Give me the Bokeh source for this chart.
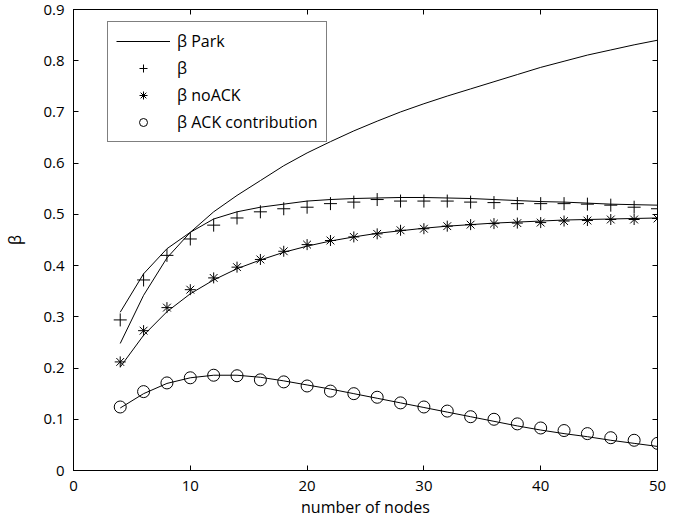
from bokeh.plotting import figure
from bokeh.models import Range1d, LinearAxis, Legend, LegendItem, FixedTicker
from bokeh.embed import file_html
from bokeh.resources import INLINE

nodes = [4, 6, 8, 10, 12, 14, 16, 18, 20, 22, 24, 26, 28, 30, 32, 34, 36, 38, 40, 42, 44, 46, 48, 50]

beta_park = [0.248, 0.342, 0.415, 0.465, 0.505, 0.537, 0.566, 0.595, 0.620, 0.642, 0.663, 0.682,
             0.700, 0.716, 0.731, 0.745, 0.759, 0.773, 0.787, 0.799, 0.811, 0.821, 0.831, 0.840]
beta_model = [0.309, 0.384, 0.433, 0.465, 0.491, 0.505, 0.514, 0.520, 0.526, 0.529, 0.531, 0.532,
              0.533, 0.533, 0.532, 0.531, 0.529, 0.527, 0.525, 0.524, 0.522, 0.520, 0.519, 0.518]
beta_sim = [0.294, 0.372, 0.420, 0.452, 0.479, 0.493, 0.505, 0.511, 0.514, 0.521, 0.524, 0.529,
            0.526, 0.526, 0.526, 0.524, 0.523, 0.521, 0.521, 0.521, 0.520, 0.518, 0.514, 0.511]
noack_model = [0.202, 0.264, 0.310, 0.345, 0.372, 0.394, 0.411, 0.426, 0.438, 0.448, 0.456, 0.463,
               0.468, 0.473, 0.477, 0.480, 0.483, 0.485, 0.487, 0.489, 0.490, 0.491, 0.492, 0.493]
noack_sim = [0.212, 0.273, 0.318, 0.353, 0.376, 0.397, 0.412, 0.428, 0.441, 0.449, 0.456, 0.462,
             0.469, 0.472, 0.477, 0.480, 0.482, 0.483, 0.484, 0.487, 0.488, 0.490, 0.490, 0.492]
ack_model = [0.122, 0.150, 0.170, 0.181, 0.186, 0.186, 0.182, 0.175, 0.167, 0.159, 0.150, 0.141,
             0.132, 0.123, 0.114, 0.105, 0.096, 0.087, 0.079, 0.072, 0.066, 0.059, 0.053, 0.047]
ack_sim = [0.124, 0.154, 0.171, 0.181, 0.186, 0.185, 0.177, 0.173, 0.165, 0.155, 0.150, 0.143,
           0.132, 0.124, 0.116, 0.105, 0.100, 0.091, 0.083, 0.078, 0.072, 0.064, 0.059, 0.053]

x_ticks = [0, 10, 20, 30, 40, 50]
y_ticks = [0, 0.1, 0.2, 0.3, 0.4, 0.5, 0.6, 0.7, 0.8, 0.9]

FONT = "Open Sans"
TICK_FS = "15px"
LABEL_FS = "16px"

p = figure(width=690, height=519, output_backend="svg", toolbar_location=None,
           x_range=Range1d(0, 50), y_range=Range1d(0, 0.9),
           min_border_left=73, min_border_right=33, min_border_top=9, min_border_bottom=49)
p.frame_width = 584
p.frame_height = 461
p.grid.visible = False
p.outline_line_color = "black"
p.outline_line_width = 1
p.background_fill_color = "white"
p.border_fill_color = "white"

for ax in [p.xaxis[0], p.yaxis[0]]:
    ax.major_tick_in = 5
    ax.major_tick_out = 0
    ax.minor_tick_in = 0
    ax.minor_tick_out = 0
    ax.axis_line_color = "black"
    ax.major_tick_line_color = "black"
    ax.major_label_text_font = FONT
    ax.major_label_text_font_size = TICK_FS
    ax.major_label_text_color = "black"
    ax.axis_label_text_font = FONT
    ax.axis_label_text_font_size = LABEL_FS
    ax.axis_label_text_font_style = "normal"
    ax.axis_label_text_color = "black"

p.xaxis[0].ticker = FixedTicker(ticks=x_ticks)
p.yaxis[0].ticker = FixedTicker(ticks=y_ticks)
p.xaxis[0].axis_label = "number of nodes"
p.yaxis[0].axis_label = "β"
p.xaxis[0].major_label_standoff = 10
p.xaxis[0].axis_label_standoff = 2
p.yaxis[0].major_label_standoff = 9
p.yaxis[0].axis_label_standoff = 14

top_ax = LinearAxis(ticker=FixedTicker(ticks=x_ticks),
                    major_label_overrides={t: "" for t in x_ticks})
right_ax = LinearAxis(ticker=FixedTicker(ticks=y_ticks),
                      major_label_overrides={t: "" for t in y_ticks})
for ax in [top_ax, right_ax]:
    ax.major_tick_in = 5
    ax.major_tick_out = 0
    ax.minor_tick_in = 0
    ax.minor_tick_out = 0
    ax.major_label_standoff = 0
    ax.axis_line_color = "black"
    ax.major_tick_line_color = "black"
p.add_layout(top_ax, "above")
p.add_layout(right_ax, "right")

lw = 1.0
r_park = p.line(nodes, beta_park, line_color="black", line_width=lw)
p.line(nodes, beta_model, line_color="black", line_width=lw)
p.line(nodes, noack_model, line_color="black", line_width=lw)
p.line(nodes, ack_model, line_color="black", line_width=lw)

r_beta = p.scatter(nodes, beta_sim, marker="cross", size=13, line_color="black", line_width=1)
r_noack = p.scatter(nodes, noack_sim, marker="asterisk", size=11, line_color="black", line_width=1)
r_ack = p.scatter(nodes, ack_sim, marker="circle", size=12, line_color="black",
                  fill_color=None, line_width=1)

legend = Legend(items=[
    LegendItem(label="β Park", renderers=[r_park]),
    LegendItem(label="β", renderers=[r_beta]),
    LegendItem(label="β noACK", renderers=[r_noack]),
    LegendItem(label="β ACK contribution", renderers=[r_ack]),
], location=(34, 328))
legend.border_line_color = "black"
legend.border_line_width = 1
legend.background_fill_color = "white"
legend.background_fill_alpha = 1
legend.label_text_font = FONT
legend.label_text_font_size = LABEL_FS
legend.label_text_color = "black"
legend.glyph_width = 54
legend.glyph_height = 20
legend.label_height = 20
legend.spacing = 5
legend.padding = 8
legend.margin = 0
legend.label_standoff = 7
p.add_layout(legend, "center")

open("out.html", "w").write(file_html(p, INLINE))
